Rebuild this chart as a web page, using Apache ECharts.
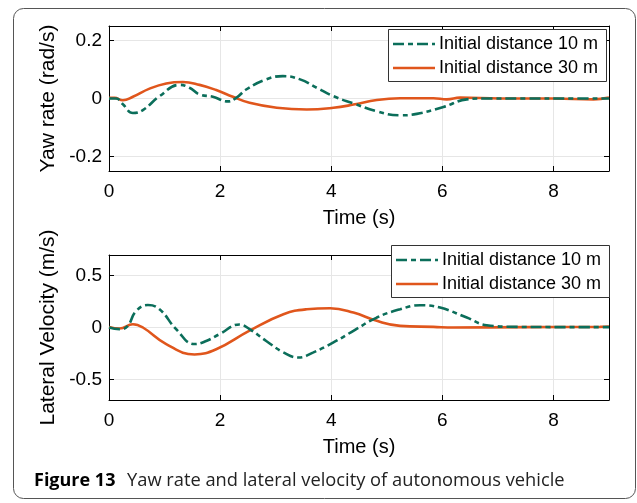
<!DOCTYPE html>
<html>
<head>
<meta charset="utf-8">
<script src="https://cdn.jsdelivr.net/npm/echarts@6/dist/echarts.min.js"></script>
<style>
  html, body { margin: 0; padding: 0; background: #fff; }
  #chart { width: 637px; height: 503px; }
</style>
</head>
<body>
<div id="chart"></div>
<script>
// 数据：[时间 s, 数值]
var yaw10 = [
  [0, 0], [0.13, 0], [0.25, -0.02], [0.43, -0.05], [0.61, -0.04], [0.91, 0.008],
  [1.27, 0.047], [1.45, 0.037], [1.63, 0.014], [1.87, 0.006], [2.14, -0.01],
  [2.29, 0.002], [2.47, 0.031], [2.83, 0.066], [3.13, 0.077], [3.44, 0.066],
  [3.74, 0.037], [4.04, 0.008], [4.4, -0.017], [4.82, -0.044], [5.24, -0.058],
  [5.54, -0.053], [6.02, -0.029], [6.44, -0.003], [6.74, 0], [7.5, 0], [8.3, 0], [9, 0]
];
var yaw30 = [
  [0, 0.002], [0.1, 0.002], [0.25, -0.006], [0.43, 0.006], [0.73, 0.034],
  [1.03, 0.052], [1.33, 0.057], [1.63, 0.047], [1.93, 0.029], [2.23, 0.006],
  [2.53, -0.015], [3.02, -0.032], [3.56, -0.038], [4.04, -0.032], [4.4, -0.021],
  [4.82, -0.005], [5.24, 0.001], [5.84, 0.001], [6.08, -0.003], [6.32, 0.003],
  [7.04, 0], [8.0, 0], [8.72, -0.003], [9, 0.003]
];
var lat10 = [
  [0, 0], [0.19, -0.016], [0.33, 0.01], [0.49, 0.16], [0.7, 0.217], [0.91, 0.176],
  [1.21, -0.017], [1.54, -0.16], [1.75, -0.13], [1.99, -0.064], [2.35, 0.029],
  [2.53, -0.016], [2.83, -0.13], [3.14, -0.24], [3.41, -0.29], [3.68, -0.24],
  [4.04, -0.144], [4.4, -0.032], [4.82, 0.096], [5.24, 0.176], [5.6, 0.215],
  [5.96, 0.192], [6.44, 0.096], [6.8, 0.022], [7.34, 0.006], [8.2, 0.004], [9, 0.004]
];
var lat30 = [
  [0, 0.006], [0.19, -0.01], [0.43, 0.032], [0.61, 0], [1.03, -0.16], [1.54, -0.26],
  [1.93, -0.21], [2.53, -0.03], [3.14, 0.128], [3.56, 0.176], [3.98, 0.186],
  [4.4, 0.144], [4.82, 0.064], [5.24, 0.016], [5.84, 0.006], [6.2, 0], [7.5, 0.004],
  [8.84, 0.006], [9, 0.01]
];
var yawTicks = [-0.2, 0, 0.2];
var latTicks = [-0.5, 0, 0.5];
var legendNames = ['Initial distance 10 m', 'Initial distance 30 m'];
var caption = 'Yaw rate and lateral velocity of autonomous vehicle';

var green = '#0b6e5a';
var orange = '#e0561c';
var font = 'Liberation Sans';

function xAx(grid, top) {
  return {
    type: 'value', gridIndex: grid, min: 0, max: 9, interval: 2,
    position: top ? 'top' : 'bottom',
    name: top ? '' : 'Time (s)', nameLocation: 'middle', nameGap: 37,
    nameTextStyle: { fontFamily: font, fontSize: 20, color: '#000' },
    axisLine: { onZero: false, lineStyle: { color: '#000', width: 1 } },
    axisTick: { inside: true, length: 5, lineStyle: { color: '#000' } },
    axisLabel: { show: !top, showMaxLabel: false, margin: 11, fontFamily: font, fontSize: 19, color: '#000' },
    splitLine: { show: !top, lineStyle: { color: '#e6e6e6', width: 1 } }
  };
}
function yAx(grid, right, lo, hi, ticks, title) {
  return {
    type: 'value', gridIndex: grid, min: lo, max: hi,
    position: right ? 'right' : 'left',
    name: right ? '' : title, nameLocation: 'middle', nameGap: 41, nameRotate: 90,
    nameTextStyle: { fontFamily: font, fontSize: 21, color: '#000' },
    axisLine: { onZero: false, lineStyle: { color: '#000', width: 1 } },
    axisTick: { inside: true, length: 5, customValues: ticks, lineStyle: { color: '#000' } },
    axisLabel: { show: !right, customValues: ticks, margin: 7, fontFamily: font, fontSize: 19, color: '#000' },
    splitLine: { show: !right, lineStyle: { color: '#e6e6e6', width: 1 } }
  };
}
function lineSeries(name, data, xi, yi, dashed) {
  return {
    name: name, type: 'line', xAxisIndex: xi, yAxisIndex: yi,
    data: data, smooth: 0.45, showSymbol: false, symbol: 'none',
    lineStyle: { color: dashed ? green : orange, width: 2.6, type: dashed ? [11, 4, 5, 4] : 'solid' },
    itemStyle: { color: dashed ? green : orange },
    z: dashed ? 3 : 2
  };
}

// 图例：手动画框，图标用线段
function legendGraphic(x, y) {
  var items = [{
    type: 'rect', z: 10, silent: true,
    shape: { x: x + 0.5, y: y + 0.5, width: 218, height: 52 },
    style: { fill: '#fff', stroke: '#333', lineWidth: 1 }
  }];
  [0, 1].forEach(function (i) {
    var cy = y + 15 + i * 24;
    items.push({
      type: 'line', z: 11, silent: true,
      shape: { x1: x + 5, y1: cy, x2: x + 47, y2: cy },
      style: { stroke: i === 0 ? green : orange, lineWidth: 2.6, lineDash: i === 0 ? [11, 4, 5, 4] : null }
    });
    items.push({
      type: 'text', z: 11, silent: true, x: x + 51, y: cy,
      style: { text: legendNames[i], font: '18px "' + font + '"', fill: '#000', verticalAlign: 'middle' }
    });
  });
  return items;
}

var graphics = [
  {
    type: 'rect', silent: true, z: 0,
    shape: { x: 13.5, y: 8.5, width: 622, height: 490, r: 10 },
    style: { fill: 'none', stroke: '#555', lineWidth: 1 }
  },
  {
    type: 'text', x: 34, y: 481, silent: true,
    style: { text: 'Figure 13', font: 'bold 18px "Open Sans"', fill: '#000', verticalAlign: 'middle' }
  },
  {
    type: 'text', x: 127, y: 481, silent: true,
    style: { text: caption, font: '18.3px "Open Sans"', fill: '#222', verticalAlign: 'middle' }
  }
].concat(legendGraphic(388, 29), legendGraphic(391, 245));

var chart = echarts.init(document.getElementById('chart'));
chart.setOption({
  animation: false,
  backgroundColor: '#fff',
  grid: [
    { left: 109, top: 26, width: 500, height: 145 },
    { left: 109, top: 255, width: 500, height: 145 }
  ],
  xAxis: [xAx(0, false), xAx(0, true), xAx(1, false), xAx(1, true)],
  yAxis: [
    yAx(0, false, -0.25, 0.25, yawTicks, 'Yaw rate (rad/s)'),
    yAx(0, true, -0.25, 0.25, yawTicks),
    yAx(1, false, -0.7, 0.7, latTicks, 'Lateral Velocity (m/s)'),
    yAx(1, true, -0.7, 0.7, latTicks)
  ],
  series: [
    lineSeries(legendNames[0], yaw10, 0, 0, true),
    lineSeries(legendNames[1], yaw30, 0, 0, false),
    lineSeries(legendNames[0], lat10, 2, 2, true),
    lineSeries(legendNames[1], lat30, 2, 2, false)
  ],
  graphic: graphics
});
window.onresize = chart.resize;
</script>
</body>
</html>
